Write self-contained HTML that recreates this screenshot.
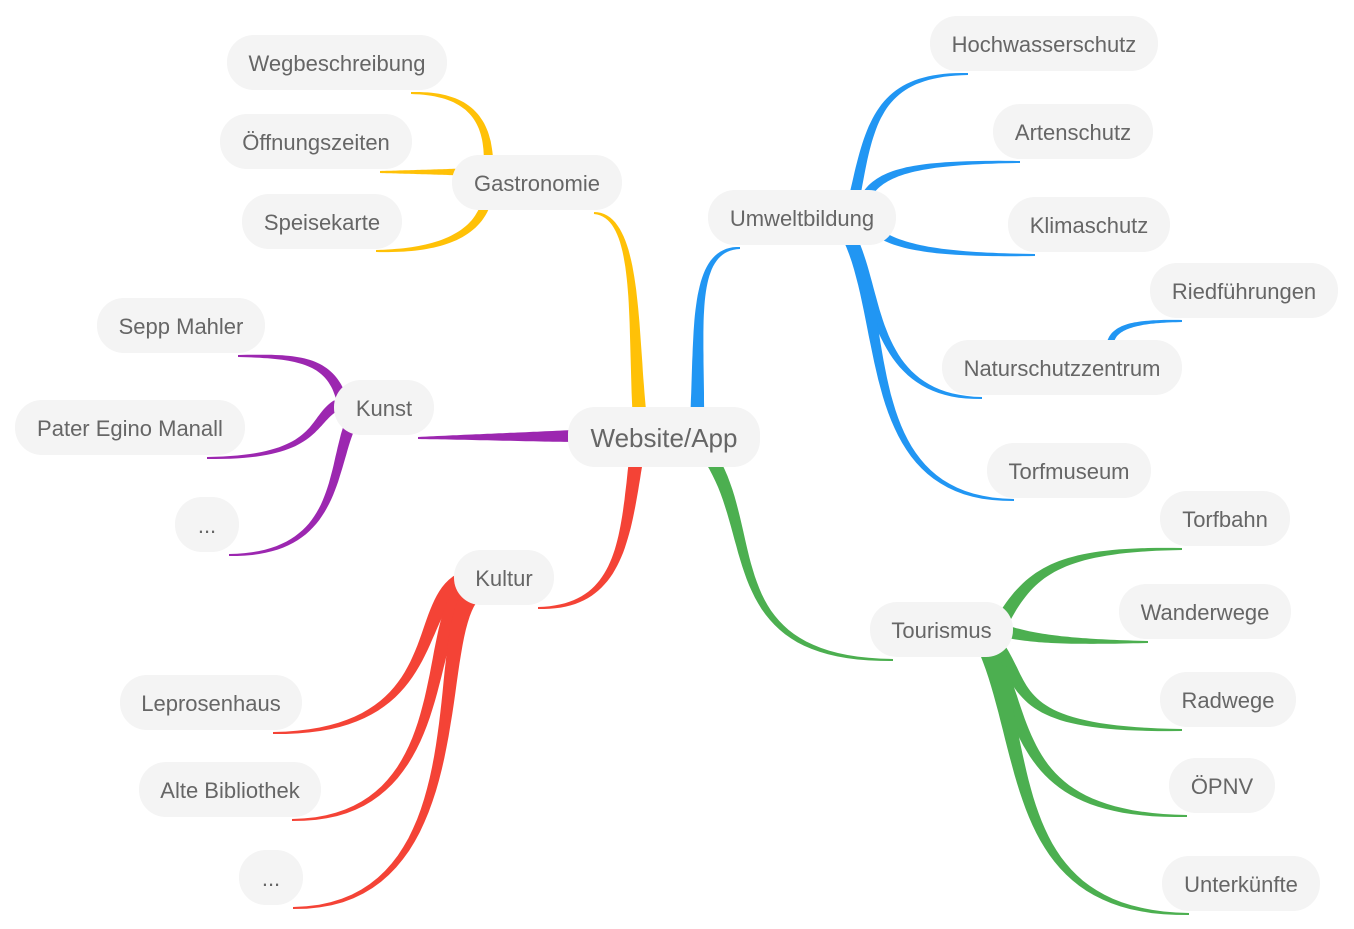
<!DOCTYPE html>
<html><head><meta charset="utf-8"><style>
html,body{margin:0;padding:0;background:#fff;}
svg{display:block;}
text{font-family:"Liberation Sans",sans-serif;fill:#666;font-size:22px;text-anchor:middle;dominant-baseline:central;}
</style></head><body>
<svg id="s" width="1354" height="929" viewBox="0 0 1354 929">
<g id="br"></g>
<g id="nodes"></g>
</svg>
<script>
const Y='#FFC107',B='#2196F3',P='#9C27B0',R='#F44336',G='#4CAF50';
const br=[
[Y,14,2,[640,420,632,330,640,215,594,213]],
[Y,10,2,[488,175,492,120,470,93,411,93]],
[Y,7,2,[462,172,440,172,410,172,380,172]],
[Y,10,2,[488,195,480,240,430,251,376,251]],
[B,14,2,[697,420,700,330,690,248,740,248]],
[B,11,2,[855,195,870,120,880,74,968,74]],
[B,10,2,[865,198,880,170,920,162,1020,162]],
[B,9,2,[870,225,890,250,950,255,1035,255]],
[B,14,2,[848,235,880,290,870,398,982,398]],
[B,14,2,[850,238,890,330,860,500,1014,500]],
[B,7,2,[1110,345,1112,325,1140,321,1182,321]],
[P,12,2,[572,436,520,437,470,437,418,438]],
[P,11,2,[342,400,330,360,300,356,238,356]],
[P,11,2,[337,405,310,420,320,458,207,458]],
[P,12,2,[352,420,330,470,340,555,229,555]],
[R,14,2,[636,460,625,540,620,608,538,608]],
[R,18,2,[465,580,410,600,450,733,273,733]],
[R,18,2,[468,588,420,620,460,820,292,820]],
[R,18,2,[472,594,430,640,480,908,293,908]],
[G,14,2,[712,460,760,540,720,660,893,660]],
[G,14,2,[1000,625,1030,570,1060,549,1182,549]],
[G,12,2,[1008,632,1040,640,1080,642,1148,642]],
[G,16,2,[995,645,1030,690,1010,730,1182,730]],
[G,18,2,[990,650,1030,730,1020,816,1187,816]],
[G,18,2,[988,650,1030,760,1010,914,1189,914]],
];
function bz(p,t){const u=1-t;const a=u*u*u,b=3*u*u*t,c=3*u*t*t,d=t*t*t;return[a*p[0]+b*p[2]+c*p[4]+d*p[6],a*p[1]+b*p[3]+c*p[5]+d*p[7]];}
let h='';
for(const [col,w0,w1,p] of br){
 const L=[],Rr=[],N=40;
 for(let i=0;i<=N;i++){const t=i/N;const q=bz(p,t);const q2=bz(p,Math.min(1,t+0.01)),q1=bz(p,Math.max(0,t-0.01));
  let dx=q2[0]-q1[0],dy=q2[1]-q1[1];const l=Math.hypot(dx,dy)||1;dx/=l;dy/=l;
  const w=(w0+(w1-w0)*t)/2;L.push([q[0]-dy*w,q[1]+dx*w]);Rr.push([q[0]+dy*w,q[1]-dx*w]);}
 const pts=L.concat(Rr.reverse()).map(a=>a[0].toFixed(1)+','+a[1].toFixed(1)).join(' ');
 h+=`<polygon points="${pts}" fill="${col}"/>`;
}
document.getElementById('br').innerHTML=h;
const nodes=[
['Website/App',568,407,192,60,26],
['Gastronomie',452,155,170,55],['Wegbeschreibung',227,35,220,55],['Öffnungszeiten',220,114,192,55],['Speisekarte',242,194,160,55],
['Umweltbildung',708,190,188,55],['Hochwasserschutz',930,16,228,55],['Artenschutz',993,104,160,55],['Klimaschutz',1008,197,162,55],
['Riedführungen',1150,263,188,55],['Naturschutzzentrum',942,340,240,55],['Torfmuseum',987,443,164,55],
['Kunst',334,380,100,55],['Sepp Mahler',97,298,168,55],['Pater Egino Manall',15,400,230,55],['...',175,497,64,55],
['Kultur',454,550,100,55],['Leprosenhaus',120,675,182,55],['Alte Bibliothek',139,762,182,55],['...',239,850,64,55],
['Tourismus',870,602,143,55],['Torfbahn',1160,491,130,55],['Wanderwege',1119,584,172,55],['Radwege',1160,672,136,55],['ÖPNV',1169,758,106,55],['Unterkünfte',1162,856,158,55]];
let n='';
for(const [t,x,y,w,hh,fs] of nodes){
 n+=`<rect x="${x}" y="${y}" width="${w}" height="${hh}" rx="27" fill="#f4f4f4"/><text x="${x+w/2}" y="${y+hh/2+1}" style="font-size:${fs||22}px">${t}</text>`;
}
document.getElementById('nodes').innerHTML=n;
</script>
</body></html>
